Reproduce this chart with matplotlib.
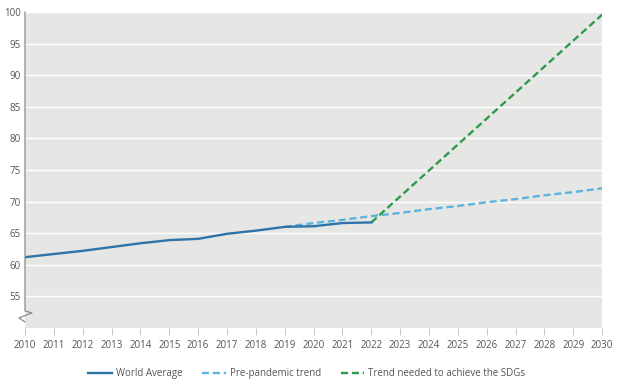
import matplotlib
matplotlib.use('Agg')
import matplotlib.pyplot as plt

# Data
years_hist = [2010, 2011, 2012, 2013, 2014, 2015, 2016, 2017, 2018, 2019, 2020, 2021, 2022]
world_avg = [61.2, 61.7, 62.2, 62.8, 63.4, 63.9, 64.1, 64.9, 65.4, 66.0, 66.1, 66.6, 66.7]

years_trend = [2019, 2020, 2021, 2022, 2023, 2024, 2025, 2026, 2027, 2028, 2029, 2030]
pre_pandemic = [66.0, 66.6, 67.1, 67.7, 68.2, 68.8, 69.3, 69.9, 70.4, 71.0, 71.5, 72.1]

years_sdg = [2022, 2030]
sdg_needed = [66.7, 99.6]

x_ticks = list(range(2010, 2031))
y_ticks = [55, 60, 65, 70, 75, 80, 85, 90, 95, 100]

plt.rcParams['font.family'] = ['Open Sans', 'DejaVu Sans']
text_color = '#555555'

fig = plt.figure(figsize=(6.2, 3.89), dpi=100)
ax = fig.add_axes([0.0403, 0.157, 0.931, 0.812])
ax.set_facecolor('#e6e7e5')

ax.plot(years_hist, world_avg, color='#2e74a9', lw=1.7, label='World Average', zorder=3)
ax.plot(years_trend, pre_pandemic, color='#5bb3de', lw=1.7, dashes=(3, 1.6),
        label='Pre-pandemic trend', zorder=2)
ax.plot(years_sdg, sdg_needed, color='#2e9a4c', lw=1.7, dashes=(3, 1.6),
        label='Trend needed to achieve the SDGs', zorder=2)

ax.set_xlim(2010, 2030)
ax.set_ylim(50, 100)
ax.set_xticks(x_ticks)
ax.set_yticks(y_ticks)
ax.grid(axis='y', color='white', lw=1.0)
ax.set_axisbelow(True)

for s in ['top', 'right', 'bottom', 'left']:
    ax.spines[s].set_visible(False)

ax.tick_params(axis='y', length=0, labelsize=7, labelcolor=text_color, pad=3)
ax.tick_params(axis='x', length=5, width=0.6, color='#bbbbbb', labelsize=7,
               labelcolor=text_color, pad=4)

# left axis with break symbol
bx = [0, 0, 0.012, -0.0105, 0]
by = [1, 0.054, 0.0475, 0.0316, 0.019]
ax.plot(bx, by, transform=ax.transAxes, color='#8c8c8c', lw=0.9, clip_on=False, zorder=5)

fig.legend(loc='center', bbox_to_anchor=(0.495, 0.04), ncol=3, frameon=False,
           fontsize=7, labelcolor=text_color, handlelength=2.4, columnspacing=2.0,
           handletextpad=0.45)

fig.savefig('out.png', dpi=100)
